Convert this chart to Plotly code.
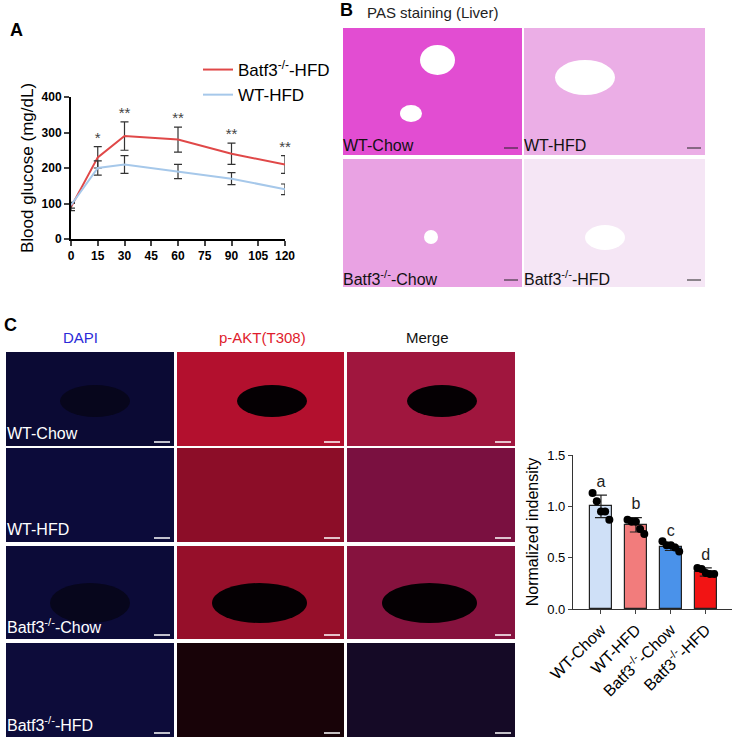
import plotly.graph_objects as go

W, H = 735, 741

# panel A: glucose tolerance
minutes = [0, 15, 30, 60, 90, 120]
batf3_hfd = [90, 230, 290, 280, 240, 210]
batf3_hfd_err = [10, 30, 40, 35, 30, 25]
wt_hfd = [95, 200, 210, 190, 170, 140]
wt_hfd_err = [8, 20, 25, 20, 17, 15]
stars = ["*", "**", "**", "**", "**"]
star_minutes = [15, 30, 60, 90, 120]

# panel C: quantification
groups = ["WT-Chow", "WT-HFD", "Batf3<sup>-/-</sup>-Chow", "Batf3<sup>-/-</sup>-HFD"]
means = [1.0, 0.82, 0.60, 0.36]
sds = [0.11, 0.07, 0.03, 0.04]
points = [[1.13, 1.05, 0.95, 0.95, 0.87],
          [0.87, 0.85, 0.85, 0.78, 0.73],
          [0.66, 0.62, 0.62, 0.60, 0.56],
          [0.40, 0.39, 0.35, 0.34, 0.34]]
letters = ["a", "b", "c", "d"]
bar_colors = ["#cfe0f7", "#f27c7c", "#4a92ea", "#f21414"]
jitter = [-0.24, -0.12, 0.0, 0.12, 0.24]


def px(x):
    return x / W


def py(y):
    return 1 - y / H


fig = go.Figure()

fig.add_trace(go.Scatter(
    x=minutes, y=batf3_hfd, name="Batf3<sup>-/-</sup>-HFD", mode="lines",
    line=dict(color="#e04848", width=2),
    error_y=dict(array=batf3_hfd_err, color="#333", thickness=1.2, width=4)))
fig.add_trace(go.Scatter(
    x=minutes, y=wt_hfd, name="WT-HFD", mode="lines",
    line=dict(color="#a6c8ea", width=2),
    error_y=dict(array=wt_hfd_err, color="#333", thickness=1.2, width=4)))
star_y = [batf3_hfd[minutes.index(m)] + batf3_hfd_err[minutes.index(m)] + 22 for m in star_minutes]
fig.add_trace(go.Scatter(
    x=star_minutes, y=star_y, text=stars, mode="text", showlegend=False, cliponaxis=False,
    textfont=dict(size=15, color="#444")))

# bars
for i in range(4):
    fig.add_trace(go.Bar(
        x=[i], y=[means[i]], marker=dict(color=bar_colors[i], line=dict(color="#222", width=1.2)),
        width=0.62, showlegend=False, xaxis="x2", yaxis="y2",
        error_y=dict(array=[sds[i]], color="#222", thickness=1.2, width=6)))
    fig.add_trace(go.Scatter(
        x=[i + j for j in jitter], y=points[i], mode="markers", showlegend=False,
        marker=dict(color="black", size=8), xaxis="x2", yaxis="y2"))
fig.add_trace(go.Scatter(
    x=list(range(4)), y=[m + s + 0.12 for m, s in zip(means, sds)], text=letters,
    mode="text", showlegend=False, textfont=dict(size=16, color="#222"),
    xaxis="x2", yaxis="y2"))

shapes = []
annots = []


def rect(x0, y0, x1, y1, color):
    shapes.append(dict(type="rect", xref="paper", yref="paper", x0=px(x0), x1=px(x1),
                       y0=py(y1), y1=py(y0), fillcolor=color, line=dict(width=0), layer="below"))


def oval(x0, y0, x1, y1, color):
    shapes.append(dict(type="circle", xref="paper", yref="paper", x0=px(x0), x1=px(x1),
                       y0=py(y1), y1=py(y0), fillcolor=color, line=dict(width=0)))


def label(x, y, text, color, size=15, anchor="left"):
    annots.append(dict(x=px(x), y=py(y), xref="paper", yref="paper", text=text, showarrow=False,
                       xanchor=anchor, yanchor="middle", font=dict(size=size, color=color)))


# panel B images
pas = [(343, 28, 522, 155, "#e24dd2", "WT-Chow"), (524, 28, 705, 155, "#ebaee6", "WT-HFD"),
       (343, 159, 522, 287, "#e9a2e3", "Batf3<sup>-/-</sup>-Chow"),
       (524, 159, 705, 287, "#f5e6f5", "Batf3<sup>-/-</sup>-HFD")]
for x0, y0, x1, y1, c, t in pas:
    rect(x0, y0, x1, y1, c)
    label(x0 - 2, y1 - 9, t, "#111", 16)
    shapes.append(dict(type="line", xref="paper", yref="paper", x0=px(x1 - 18), x1=px(x1 - 4),
                       y0=py(y1 - 7), y1=py(y1 - 7), line=dict(color="#222", width=1)))
oval(420, 45, 455, 75, "white")
oval(400, 105, 422, 122, "white")
oval(555, 60, 615, 95, "white")
oval(585, 225, 625, 250, "white")
oval(424, 230, 438, 244, "white")
label(432, 12, "PAS staining (Liver)", "#222", 15, "center")

# panel C images
rows = [(352, 446), (448, 542), (546, 639), (643, 737)]
cols = [(6, 174), (177, 344), (347, 515)]
colors = [["#0b0a34", "#b3102e", "#a0163e"],
          ["#0c0b3a", "#8c0d28", "#7a1040"],
          ["#0c0b38", "#960f2a", "#86123e"],
          ["#0d0c3a", "#180308", "#150a26"]]
row_labels = ["WT-Chow", "WT-HFD", "Batf3<sup>-/-</sup>-Chow", "Batf3<sup>-/-</sup>-HFD"]
for r, (y0, y1) in enumerate(rows):
    for c, (x0, x1) in enumerate(cols):
        rect(x0, y0, x1, y1, colors[r][c])
        shapes.append(dict(type="line", xref="paper", yref="paper", x0=px(x1 - 20), x1=px(x1 - 4),
                           y0=py(y1 - 4), y1=py(y1 - 4), line=dict(color="white", width=1.5)))
    label(5, y1 - 13, row_labels[r], "white", 16)
for x0, x1 in cols[1:]:
    oval(x0 + 60, 385, x0 + 130, 417, "#050003")
    oval(x0 + 35, 583, x0 + 130, 623, "#050003")
oval(60, 385, 130, 417, "#07061c")
oval(50, 583, 130, 623, "#07061c")
label(80, 337, "DAPI", "#2a2ad8", 15, "center")
label(262, 337, "p-AKT(T308)", "#e01c2c", 15, "center")
label(427, 337, "Merge", "#111", 15, "center")

label(8, 30, "<b>A</b>", "black", 18)
label(338, 10, "<b>B</b>", "black", 18)
label(2, 325, "<b>C</b>", "black", 18)

fig.update_layout(
    width=W, height=H, margin=dict(l=0, r=0, t=0, b=0, autoexpand=False),
    paper_bgcolor="white", plot_bgcolor="white",
    font=dict(family="Liberation Sans, Arial", color="black"),
    shapes=shapes, annotations=annots, bargap=0,
    legend=dict(x=px(198), y=py(52), xanchor="left", yanchor="top", font=dict(size=17),
                bgcolor="rgba(0,0,0,0)", tracegroupgap=2),
    xaxis=dict(domain=[px(71), px(285)], range=[0, 120], tickvals=list(range(0, 121, 15)),
               ticktext=["<b>%d</b>" % v for v in range(0, 121, 15)], automargin=False,
               showline=True, linecolor="black", linewidth=2, ticks="outside", ticklen=5,
               tickwidth=2, showgrid=False, zeroline=False, tickfont=dict(size=12)),
    yaxis=dict(domain=[py(239), py(97)], range=[0, 400], tickvals=[0, 100, 200, 300, 400],
               ticktext=["<b>%d</b>" % v for v in [0, 100, 200, 300, 400]], automargin=False,
               showline=True, linecolor="black", linewidth=2, ticks="outside", ticklen=5,
               tickwidth=2, showgrid=False, zeroline=False, tickfont=dict(size=12),
               title=dict(text="Blood glucose (mg/dL)", font=dict(size=17), standoff=4)),
    xaxis2=dict(domain=[px(573), px(732)], range=[-0.8, 3.75], anchor="y2", automargin=False,
                tickvals=list(range(4)), ticktext=groups, tickangle=-45,
                showline=True, linecolor="#333", linewidth=1.2, ticks="outside", ticklen=4,
                showgrid=False, zeroline=False, tickfont=dict(size=16)),
    yaxis2=dict(domain=[py(609), py(455)], range=[0, 1.5], anchor="x2", automargin=False,
                tickvals=[0, 0.5, 1.0, 1.5], ticktext=["0.0", "0.5", "1.0", "1.5"],
                showline=True, linecolor="#333", linewidth=1.2, ticks="outside", ticklen=4,
                showgrid=False, zeroline=False, tickfont=dict(size=13),
                title=dict(text="Normalized indensity", font=dict(size=16), standoff=4)),
)

fig.write_html("out.html", config={"displayModeBar": False})

# drop the default page margin so the figure sits at the window's origin
with open("out.html", encoding="utf-8") as f:
    page = f.read()
page = page.replace("<body>", '<body style="margin:0;overflow:hidden">', 1)
with open("out.html", "w", encoding="utf-8") as f:
    f.write(page)
